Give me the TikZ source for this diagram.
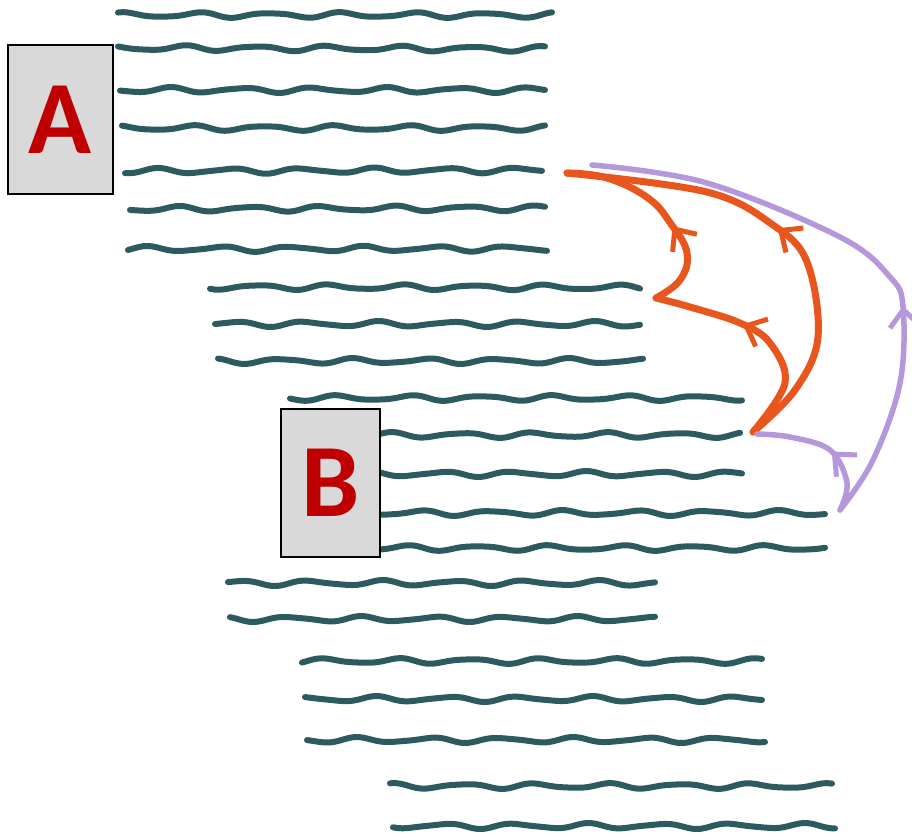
\documentclass[tikz,border=0pt]{standalone}
\usepackage{fontspec}
\setmainfont{Carlito}
\usetikzlibrary{decorations.markings,arrows.meta}
\definecolor{inkteal}{HTML}{2D5A5F}
\definecolor{inkorange}{HTML}{E8561E}
\definecolor{inkpurple}{HTML}{B597DC}
\definecolor{boxgray}{HTML}{D9D9D9}
\definecolor{letterred}{HTML}{C00000}
\newcommand\wavyline[5]{% x1, x2, y, phase, tilt
  \draw[wave] plot[domain=#1:#2, samples=90, smooth]
    (\x, {#3 + #5*(\x-#1)/100 + 2.3*sin(5.0*\x+#4) + 0.7*sin(8.3*\x+2*#4)});}
\tikzset{
  wave/.style={inkteal, line width=6pt, line cap=round, line join=round},
  lettbox/.style={draw=black, line width=1.8pt, fill=boxgray, inner sep=0pt,
    text=letterred, font=\fontsize{104}{104}\selectfont\bfseries},
  flowline/.style={line width=#1, line cap=round, line join=round},
  midarrow/.style={postaction=decorate, decoration={markings,
    mark=at position #1 with {\arrow[line width=5pt, line cap=round]{Straight Barb[length=17pt,width=30pt]}}}},
  orangepath/.style={inkorange, flowline=7pt},
  purplepath/.style={inkpurple, flowline=5.5pt},
}
\begin{document}
\begin{tikzpicture}[x=1pt,y=-1pt]
\useasboundingbox (0,0) rectangle (912,839);
% wavy text lines
\wavyline{118}{552}{15}{0}{0}
\wavyline{118}{545}{48}{70}{0.2}
\wavyline{120}{545}{90}{140}{0}
\wavyline{122}{545}{128}{30}{0}
\wavyline{125}{542}{171}{200}{-0.2}
\wavyline{130}{545}{209}{100}{-0.2}
\wavyline{128}{547}{249}{250}{-0.1}
\wavyline{210}{640}{287}{60}{0.1}
\wavyline{215}{640}{324}{180}{0}
\wavyline{218}{643}{361}{300}{0}
\wavyline{290}{742}{398}{20}{0}
\wavyline{372}{740}{435}{120}{0}
\wavyline{372}{742}{474}{220}{0}
\wavyline{372}{825}{513}{330}{0}
\wavyline{372}{825}{548}{40}{0}
\wavyline{228}{655}{583}{160}{0}
\wavyline{230}{655}{619}{260}{0}
\wavyline{302}{762}{661}{80}{0}
\wavyline{305}{762}{699}{190}{0}
\wavyline{307}{765}{740}{280}{0}
\wavyline{390}{832}{786}{110}{0}
\wavyline{393}{835}{826}{210}{0}
% boxes
\node[lettbox, minimum width=105pt, minimum height=149pt] (A) at (60.5,119.5) {A};
\node[lettbox, minimum width=99pt, minimum height=148pt] (B) at (330.5,483) {B};
% flow end points
\coordinate (top) at (567,173);
\coordinate (ptop) at (592,165);
\coordinate (mid) at (656,298);
\coordinate (low) at (753,432);
\coordinate (plow) at (757,434);
\coordinate (pbot) at (840,510);
% orange flows
\draw[orangepath, midarrow=0.42] plot[smooth, tension=0.7] coordinates
  {(mid) (680,280) (687,253) (671,224) (648,198) (607,178) (top)};
\draw[orangepath, midarrow=0.6] plot[smooth, tension=0.6] coordinates
  {(low) (785,383) (770,343) (740,323) (690,307) (mid)};
\draw[orangepath, midarrow=0.52] plot[smooth, tension=0.6] coordinates
  {(low) (795,390) (818,337) (807,262) (773,225) (707,192) (top)};
% purple flows
\draw[purplepath, midarrow=0.38] plot[smooth, tension=0.6] coordinates
  {(pbot) (873,460) (900,383) (903,307) (890,277) (840,237) (707,183) (ptop)};
\draw[purplepath, midarrow=0.45] plot[smooth, tension=0.6] coordinates
  {(pbot) (847,483) (830,450) (790,437) (plow)};
\end{tikzpicture}
\end{document}
